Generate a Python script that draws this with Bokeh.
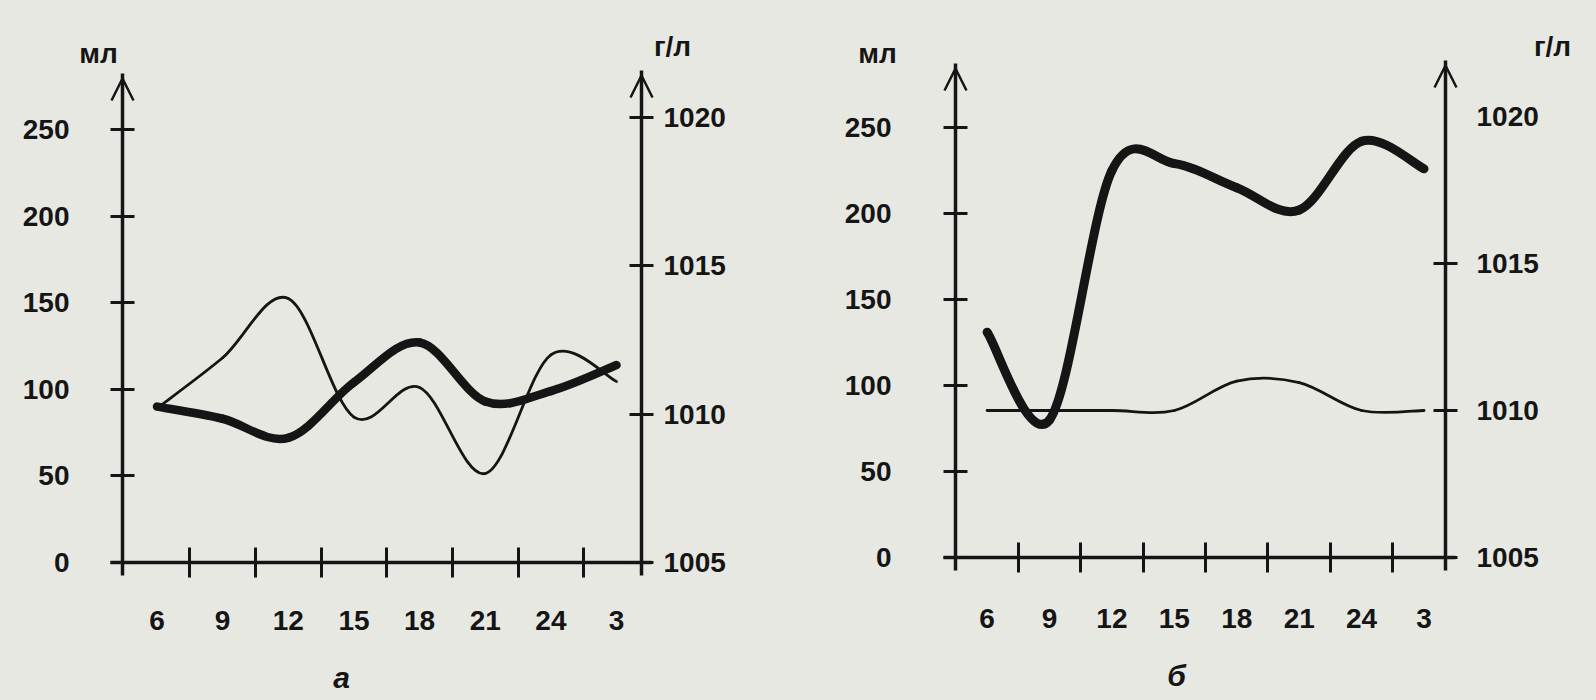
from bokeh.plotting import figure
from bokeh.models import (Range1d, LinearAxis, FixedTicker, Label, Arrow, OpenHead,
                          CustomJSTickFormatter)
from bokeh.layouts import row
from bokeh.embed import file_html
from bokeh.resources import INLINE

# ---------------- data ----------------
hours = ["6", "9", "12", "15", "18", "21", "24", "3"]
volume_a = [90, 83, 72, 104, 127, 93, 99, 114]                                # мл, thick line
density_a = [1010.2, 1011.9, 1013.9, 1009.9, 1010.9, 1008.0, 1012.0, 1011.1]  # г/л, thin line
volume_b = [131, 80, 225, 229, 215, 202, 242, 226]
density_b = [1010.0, 1010.0, 1010.0, 1010.0, 1011.0, 1010.95, 1010.0, 1010.0]
ml_ticks = [0, 50, 100, 150, 200, 250]
gl_ticks = [1005, 1010, 1015, 1020]

INK = "#151515"
BG = "#e8e8e3"
FONT = "Liberation Sans"
W, H = 798, 700


def smooth(xs, ys):
    """Bezier control points of a smoothed line through the points."""
    n = len(xs)
    s = {k: [] for k in ("x0", "y0", "x1", "y1", "cx0", "cy0", "cx1", "cy1")}
    for i in range(n - 1):
        xa, ya = (xs[i - 1], ys[i - 1]) if i > 0 else (xs[i], ys[i])
        xd, yd = (xs[i + 2], ys[i + 2]) if i + 2 < n else (xs[i + 1], ys[i + 1])
        s["x0"].append(xs[i]); s["y0"].append(ys[i])
        s["x1"].append(xs[i + 1]); s["y1"].append(ys[i + 1])
        s["cx0"].append(xs[i] + (xs[i + 1] - xa) / 6.0)
        s["cy0"].append(ys[i] + (ys[i + 1] - ya) / 6.0)
        s["cx1"].append(xs[i + 1] - (xd - xs[i]) / 6.0)
        s["cy1"].append(ys[i + 1] - (yd - ys[i]) / 6.0)
    return s


def style_axis(ax, label_ticks, mark_ticks, tick_len, standoff):
    ax.ticker = FixedTicker(ticks=label_ticks, minor_ticks=mark_ticks)
    ax.axis_line_color = INK
    ax.axis_line_width = 3.5
    ax.major_tick_line_color = None
    ax.major_tick_in = 0
    ax.major_tick_out = 0
    ax.minor_tick_line_color = INK
    ax.minor_tick_line_width = 3
    ax.minor_tick_in = tick_len
    ax.minor_tick_out = tick_len
    ax.major_label_standoff = standoff
    ax.major_label_text_font = FONT
    ax.major_label_text_font_style = "bold"
    ax.major_label_text_font_size = "28px"
    ax.major_label_text_color = INK


def panel(volume, density, caption, L):
    xs = list(range(len(hours)))
    ux, x0 = L["ux"], L["x0"]          # px per category step, px of first category
    uy, y0 = L["uy"], L["y0"]          # px per мл, px of the zero line
    ug = L["ug"]                       # px per г/л unit (1005 on the zero line)

    def X(px):
        return (px - x0) / ux

    def Y(py):
        return (y0 - py) / uy

    def G(py):
        return 1005 + (y0 - py) / ug

    p = figure(width=W, height=H, output_backend="svg", toolbar_location=None, title=None,
               x_range=Range1d(X(0), X(W)), y_range=Range1d(Y(H), Y(0)),
               min_border=0, background_fill_color=BG, border_fill_color=BG)
    p.extra_y_ranges = {"gl": Range1d(G(H), G(0))}
    p.outline_line_color = None
    p.xgrid.visible = False
    p.ygrid.visible = False

    xl, xr = X(L["ax_l"]), X(L["ax_r"])

    # left axis (мл)
    la = p.yaxis[0]
    style_axis(la, ml_ticks, ml_ticks, 12, L["sl"])
    la.fixed_location = xl
    la.bounds = (Y(y0 + 13), Y(L["top_l"]))

    # right axis (г/л)
    ra = LinearAxis(y_range_name="gl")
    style_axis(ra, gl_ticks, L["gl_marks"], 12, L["sr"])
    ra.fixed_location = xr
    ra.bounds = (G(y0 + 13), G(L["top_r"]))
    p.add_layout(ra, "right")

    # x axis on the zero line: labels between the crossing tick marks
    xa = p.xaxis[0]
    style_axis(xa, xs, [i + 0.5 for i in xs[:-1]], 15, L["sx"])
    xa.formatter = CustomJSTickFormatter(args=dict(labels=hours),
                                         code="return labels[Math.round(tick)] || ''")
    xa.fixed_location = 0
    xa.bounds = (X(L["ax_l"] - 12), X(L["ax_r"] + 10))

    # arrow heads on the vertical axes
    for xe, tp in ((xl, L["top_l"]), (xr, L["top_r"])):
        p.add_layout(Arrow(end=OpenHead(size=22, line_width=2.5, line_color=INK),
                           x_start=xe, y_start=Y(tp + 40), x_end=xe, y_end=Y(tp + 5),
                           line_color=None))

    # units and caption
    for txt, (px, py), size, style in (("мл", L["ml_pos"], "28px", "bold"),
                                       ("г/л", L["gl_pos"], "28px", "bold"),
                                       (caption, L["cap_pos"], "30px", "bold italic")):
        p.add_layout(Label(x=X(px), y=Y(py), text=txt, text_font=FONT,
                           text_font_style=style, text_font_size=size, text_color=INK,
                           text_align="center", text_baseline="middle"))

    # curves
    p.bezier(line_color=INK, line_width=2.8, line_cap="round", y_range_name="gl",
             **smooth(xs, density))
    p.bezier(line_color=INK, line_width=L["lw"], line_cap="round", **smooth(xs, volume))
    return p


lay_a = dict(ux=65.65, x0=156.5, uy=433 / 250, y0=562, ug=445 / 15,
             ax_l=122, ax_r=641, top_l=73, top_r=70,
             sl=41, sr=10, sx=33, gl_marks=[1005, 1010, 1015, 1020],
             ml_pos=(98, 53), gl_pos=(672, 46), cap_pos=(341, 677), lw=8.5)
lay_b = dict(ux=62.42, x0=188.6, uy=430 / 250, y0=557, ug=147 / 5,
             ax_l=157, ax_r=647, top_l=63, top_r=60,
             sl=52, sr=19, sx=36, gl_marks=[1005, 1010, 1015],
             ml_pos=(79, 53), gl_pos=(754, 46), cap_pos=(378, 675), lw=9)

pa = panel(volume_a, density_a, "а", lay_a)
pb = panel(volume_b, density_b, "б", lay_b)
layout = row(pa, pb)

html = file_html(layout, INLINE, title="chart",
                 template="{% block preamble %}<style>body{background:#e8e8e3;}</style>{% endblock %}")
open("out.html", "w").write(html)
